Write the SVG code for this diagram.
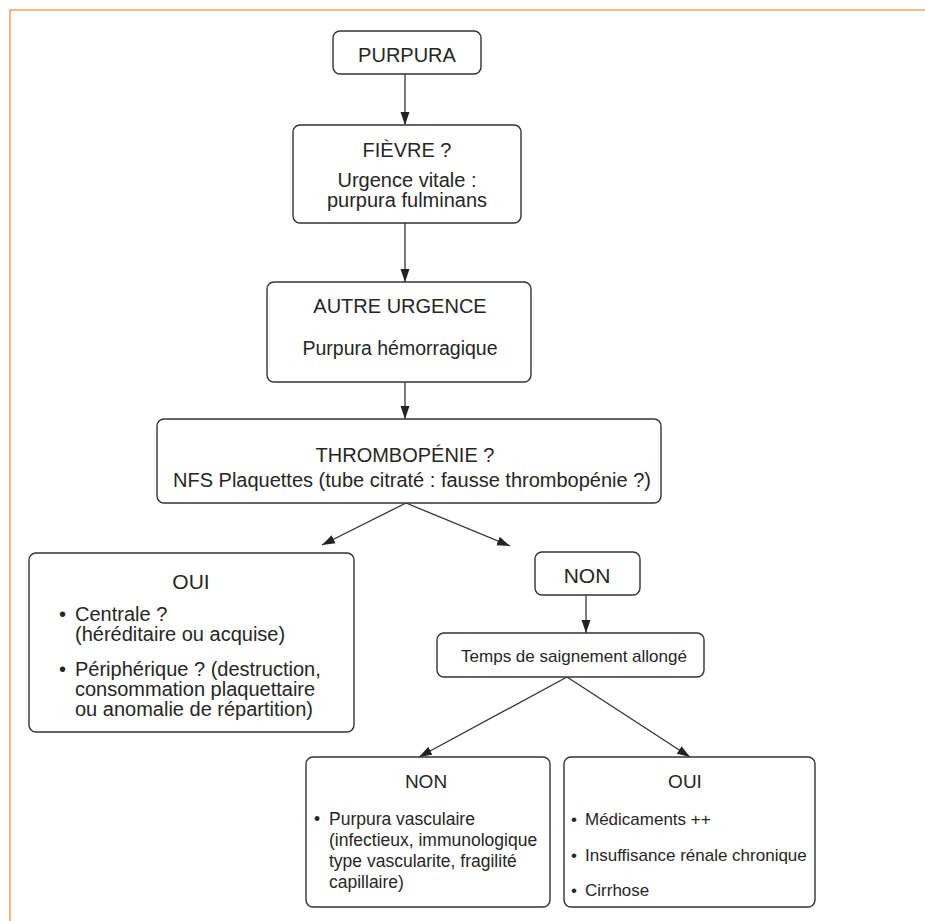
<svg xmlns="http://www.w3.org/2000/svg" width="925" height="921" viewBox="0 0 925 921">
<style>
  .box { fill: #ffffff; stroke: #333333; stroke-width: 1.4; }
  .t { font-family: "Liberation Sans", Arial, sans-serif; fill: #262626; }
  .c { text-anchor: middle; }
  .conn { stroke: #333333; stroke-width: 1.3; fill: none; }
</style>
<defs>
  <marker id="ah" markerUnits="userSpaceOnUse" markerWidth="14" markerHeight="10" refX="13" refY="5" orient="auto">
    <path d="M0,0.5 L13,5 L0,9.5 Z" fill="#222222"/>
  </marker>
</defs>
<rect x="0" y="0" width="925" height="921" fill="#ffffff"/>
<path d="M10,921 V10 H925" fill="none" stroke="#f7a463" stroke-width="1.6"/>

<g id="connectors">
  <line class="conn" x1="405" y1="74" x2="405" y2="125" marker-end="url(#ah)"/>
  <line class="conn" x1="405" y1="223" x2="405" y2="282" marker-end="url(#ah)"/>
  <line class="conn" x1="405" y1="382" x2="405" y2="419" marker-end="url(#ah)"/>
  <line class="conn" x1="406" y1="503" x2="322" y2="545" marker-end="url(#ah)"/>
  <line class="conn" x1="406" y1="503" x2="510" y2="546" marker-end="url(#ah)"/>
  <line class="conn" x1="586" y1="595" x2="586" y2="633" marker-end="url(#ah)"/>
  <line class="conn" x1="567" y1="677" x2="419" y2="757" marker-end="url(#ah)"/>
  <line class="conn" x1="567" y1="677" x2="690" y2="757" marker-end="url(#ah)"/>
</g>

<g id="purpura">
  <rect class="box" x="333" y="31" width="148" height="43" rx="7"/>
  <text class="t c" x="407" y="62" font-size="20">PURPURA</text>
</g>

<g id="fievre">
  <rect class="box" x="293" y="125" width="228" height="98" rx="7"/>
  <text class="t c" x="407" y="157" font-size="20">FIÈVRE ?</text>
  <text class="t c" x="407" y="187" font-size="20">Urgence vitale :</text>
  <text class="t c" x="407" y="207" font-size="20">purpura fulminans</text>
</g>

<g id="autre-urgence">
  <rect class="box" x="267" y="282" width="264" height="100" rx="7"/>
  <text class="t c" x="400" y="313" font-size="20">AUTRE URGENCE</text>
  <text class="t c" x="400" y="355" font-size="19.5">Purpura hémorragique</text>
</g>

<g id="thrombopenie">
  <rect class="box" x="157" y="419" width="504" height="84" rx="7"/>
  <text class="t c" x="405" y="462" font-size="20">THROMBOPÉNIE ?</text>
  <text class="t c" x="412" y="487" font-size="20">NFS Plaquettes (tube citraté : fausse thrombopénie ?)</text>
</g>

<g id="oui-gauche">
  <rect class="box" x="29" y="553" width="325" height="179" rx="7"/>
  <text class="t c" x="191" y="589" font-size="21">OUI</text>
  <text class="t" x="59" y="621" font-size="20">•</text>
  <text class="t" x="75" y="621" font-size="20">Centrale ?</text>
  <text class="t" x="75" y="641" font-size="20">(héréditaire ou acquise)</text>
  <text class="t" x="59" y="676" font-size="20">•</text>
  <text class="t" x="75" y="676" font-size="20">Périphérique ? (destruction,</text>
  <text class="t" x="75" y="696" font-size="20">consommation plaquettaire</text>
  <text class="t" x="75" y="716" font-size="20">ou anomalie de répartition)</text>
</g>

<g id="non-milieu">
  <rect class="box" x="535" y="552" width="105" height="43" rx="7"/>
  <text class="t c" x="587" y="583" font-size="21">NON</text>
</g>

<g id="temps-saignement">
  <rect class="box" x="437" y="633" width="267" height="44" rx="7"/>
  <text class="t c" x="574" y="662" font-size="17">Temps de saignement allongé</text>
</g>

<g id="non-bas">
  <rect class="box" x="306" y="757" width="244" height="150" rx="7"/>
  <text class="t c" x="426" y="788" font-size="19">NON</text>
  <text class="t" x="314" y="825" font-size="17.5">•</text>
  <text class="t" x="329" y="825" font-size="17.5">Purpura vasculaire</text>
  <text class="t" x="329" y="846" font-size="17.5">(infectieux, immunologique</text>
  <text class="t" x="329" y="867" font-size="17.5">type vascularite, fragilité</text>
  <text class="t" x="329" y="888" font-size="17.5">capillaire)</text>
</g>

<g id="oui-bas">
  <rect class="box" x="564" y="757" width="251" height="150" rx="7"/>
  <text class="t c" x="685" y="788" font-size="19">OUI</text>
  <text class="t" x="571" y="825" font-size="17">•</text>
  <text class="t" x="585" y="825" font-size="17">Médicaments ++</text>
  <text class="t" x="571" y="861" font-size="17">•</text>
  <text class="t" x="585" y="861" font-size="17">Insuffisance rénale chronique</text>
  <text class="t" x="571" y="896" font-size="17">•</text>
  <text class="t" x="585" y="896" font-size="17">Cirrhose</text>
</g>
</svg>
